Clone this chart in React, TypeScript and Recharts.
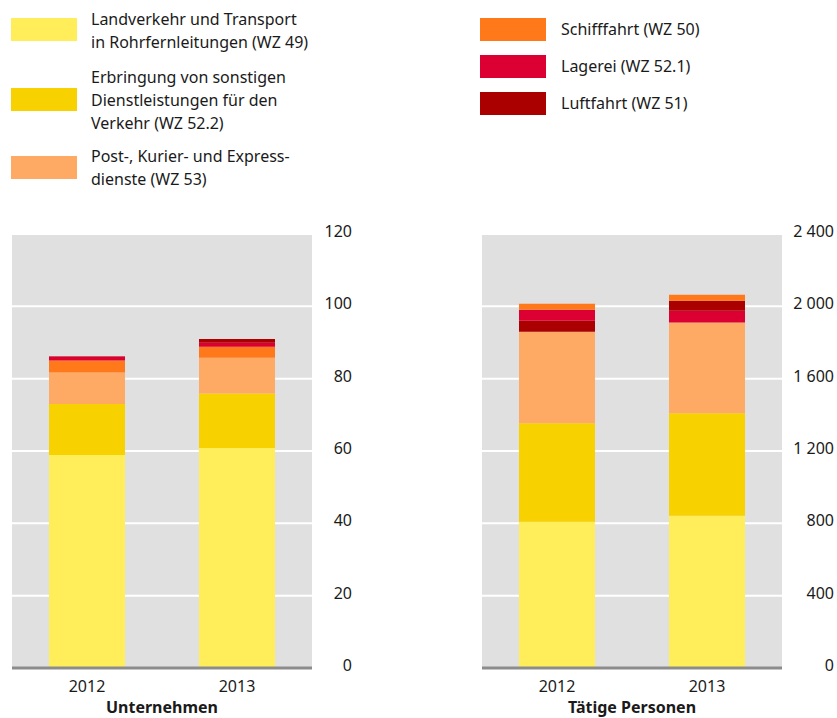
import React from "react";
import {
  BarChart,
  Bar,
  XAxis,
  YAxis,
  CartesianGrid,
  ReferenceLine,
} from "recharts";

const years = ["2012", "2013"];

// Unternehmen
const u49 = [58.9, 60.8];
const u522 = [14.1, 15.1];
const u53 = [8.7, 9.9];
const u50 = [3.3, 3.0];
const u521 = [1.1, 1.1];
const u51 = [0.1, 1.1];

// Tätige Personen
const p49 = [809, 842];
const p522 = [545, 567];
const p53 = [506, 501];
const p51 = [60, 55];
const p521 = [61, 66];
const p50 = [33, 33];
// in 2012 liegt Luftfahrt unter Lagerei, 2013 darüber
const luftfahrtUnten = [true, false];

const ticksU = [0, 20, 40, 60, 80, 100, 120];
const ticksP = [0, 400, 800, 1200, 1600, 2000, 2400];

const C = {
  w49: "#ffed5a",
  w522: "#f8d200",
  w53: "#ffaa64",
  w50: "#ff781a",
  w521: "#dc0032",
  w51: "#aa0000",
};

const legendLeft = [
  { color: C.w49, lines: ["Landverkehr und Transport", "in Rohrfernleitungen (WZ 49)"] },
  {
    color: C.w522,
    lines: ["Erbringung von sonstigen", "Dienstleistungen für den", "Verkehr (WZ 52.2)"],
  },
  { color: C.w53, lines: ["Post-, Kurier- und Express-", "dienste (WZ 53)"] },
];
const legendRight = [
  { color: C.w50, lines: ["Schifffahrt (WZ 50)"] },
  { color: C.w521, lines: ["Lagerei (WZ 52.1)"] },
  { color: C.w51, lines: ["Luftfahrt (WZ 51)"] },
];

const unternehmen = years.map((y, i) => ({
  year: y,
  w49: u49[i],
  w522: u522[i],
  w53: u53[i],
  w50: u50[i],
  w521: u521[i],
  w51: u51[i],
}));

const personen = years.map((y, i) => ({
  year: y,
  w49: p49[i],
  w522: p522[i],
  w53: p53[i],
  w51lo: luftfahrtUnten[i] ? p51[i] : 0,
  w521: p521[i],
  w51hi: luftfahrtUnten[i] ? 0 : p51[i],
  w50: p50[i],
}));

const FONT = "'Noto Sans', sans-serif";
const TEXT = "#1a1a1a";

const fmt = (v: number) =>
  v >= 1000 ? `${Math.floor(v / 1000)} ${String(v % 1000).padStart(3, "0")}` : String(v);

function YTick({ x, y, payload, offset }: any) {
  return (
    <text x={x + offset} y={y + 3} textAnchor="end" fontSize={16} fill={TEXT} fontFamily={FONT}>
      {fmt(payload.value)}
    </text>
  );
}

function XTick({ x, y, payload }: any) {
  return (
    <text x={x} y={y + 22} textAnchor="middle" fontSize={16} fill={TEXT} fontFamily={FONT}>
      {payload.value}
    </text>
  );
}

function Legend({ items, left, swatchTops }: any) {
  return (
    <>
      {items.map((it: any, i: number) => (
        <div key={i}>
          <div
            style={{
              position: "absolute",
              left,
              top: swatchTops[i].swatch,
              width: 66,
              height: 23,
              background: it.color,
            }}
          />
          <div
            style={{
              position: "absolute",
              left: left + (left > 400 ? 81 : 80),
              top: swatchTops[i].text,
              fontSize: 16,
              lineHeight: "23px",
              color: TEXT,
              fontFamily: FONT,
              whiteSpace: "nowrap",
            }}
          >
            {it.lines.map((l: string, j: number) => (
              <div key={j}>{l}</div>
            ))}
          </div>
        </div>
      ))}
    </>
  );
}

function Panel({ data, ticks, max, yWidth, labelOffset, bars, left, width, title }: any) {
  return (
    <div style={{ position: "absolute", left, top: 220 }}>
      <BarChart
        width={width}
        height={498}
        data={data}
        margin={{ top: 14, right: 0, bottom: 0, left: 12 }}
        barSize={76}
      >
        <CartesianGrid vertical={false} stroke="#ffffff" strokeWidth={2} fill="#e0e0e0" />
        <XAxis
          dataKey="year"
          axisLine={false}
          tickLine={false}
          tickSize={0}
          height={50}
          tick={<XTick />}
        />
        <YAxis
          orientation="right"
          domain={[0, max]}
          ticks={ticks}
          width={yWidth}
          axisLine={false}
          tickLine={false}
          tickSize={0}
          tickMargin={0}
          tick={<YTick offset={labelOffset} />}
          interval={0}
        />
        {bars.map((b: any) => (
          <Bar key={b.key} dataKey={b.key} stackId="a" fill={b.color} isAnimationActive={false} />
        ))}
        <ReferenceLine y={0} stroke="#8c8c8c" strokeWidth={3} />
      </BarChart>
      <div
        style={{
          position: "absolute",
          left: 12,
          width: 300,
          top: 477,
          textAlign: "center",
          fontSize: 16,
          lineHeight: "20px",
          fontWeight: "bold",
          color: TEXT,
          fontFamily: FONT,
          whiteSpace: "nowrap",
        }}
      >
        {title}
      </div>
    </div>
  );
}

export default function App() {
  const barsU = [
    { key: "w49", color: C.w49 },
    { key: "w522", color: C.w522 },
    { key: "w53", color: C.w53 },
    { key: "w50", color: C.w50 },
    { key: "w521", color: C.w521 },
    { key: "w51", color: C.w51 },
  ];
  const barsP = [
    { key: "w49", color: C.w49 },
    { key: "w522", color: C.w522 },
    { key: "w53", color: C.w53 },
    { key: "w51lo", color: C.w51 },
    { key: "w521", color: C.w521 },
    { key: "w51hi", color: C.w51 },
    { key: "w50", color: C.w50 },
  ];
  return (
    <div
      style={{
        position: "absolute",
        left: 0,
        top: 0,
        width: 837,
        height: 718,
        background: "#ffffff",
        overflow: "hidden",
        fontFamily: FONT,
      }}
    >
      <Legend
        items={legendLeft}
        left={11}
        swatchTops={[
          { swatch: 18, text: 8 },
          { swatch: 88, text: 66 },
          { swatch: 156, text: 145 },
        ]}
      />
      <Legend
        items={legendRight}
        left={480}
        swatchTops={[
          { swatch: 18, text: 18 },
          { swatch: 55, text: 55 },
          { swatch: 92, text: 92 },
        ]}
      />
      <Panel
        data={unternehmen}
        ticks={ticksU}
        max={120}
        yWidth={58}
        labelOffset={40}
        bars={barsU}
        left={0}
        width={370}
        title="Unternehmen"
      />
      <Panel
        data={personen}
        ticks={ticksP}
        max={2400}
        yWidth={55}
        labelOffset={52}
        bars={barsP}
        left={470}
        width={367}
        title="Tätige Personen"
      />
    </div>
  );
}
